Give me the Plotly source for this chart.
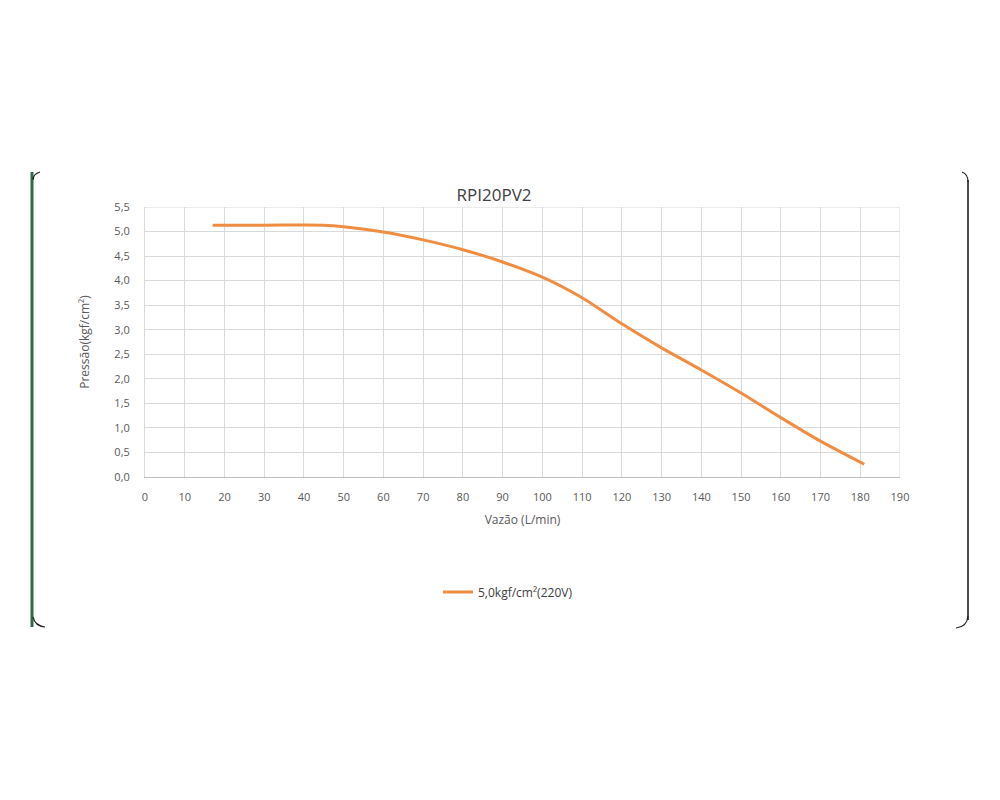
import plotly.graph_objects as go

flow = [17, 30, 45, 50, 60, 70, 80, 90, 100, 110, 120, 130, 140, 150, 160, 170, 181]
pressure = [5.13, 5.13, 5.13, 5.10, 4.99, 4.83, 4.63, 4.38, 4.07, 3.65, 3.12, 2.63, 2.18, 1.71, 1.21, 0.73, 0.26]
series_name = "5,0kgf/cm²(220V)"
title = "RPI20PV2"
x_title = "Vazão (L/min)"
y_title = "Pressão(kgf/cm²)"

L, R, T, B = 145, 900, 207, 477
W, H = 1000, 800

def px(x):
    return (x - L) / (R - L)

def py(y):
    return (B - y) / (B - T)

fig = go.Figure()
fig.add_trace(go.Scatter(x=flow, y=pressure, mode="lines", name=series_name,
                         line=dict(color="#EF8E43", width=3, shape="spline", smoothing=0.8)))

shapes = [
    dict(type="line", xref="paper", yref="paper", x0=px(32), x1=px(32), y0=py(172), y1=py(627),
         line=dict(color="#2f6b47", width=3)),
    dict(type="path", xref="paper", yref="paper",
         path=f"M {px(33)},{py(180)} Q {px(33)},{py(174)} {px(40)},{py(172)}",
         line=dict(color="#222", width=1.2)),
    dict(type="path", xref="paper", yref="paper",
         path=f"M {px(33)},{py(617)} Q {px(35)},{py(626)} {px(45)},{py(627)}",
         line=dict(color="#222", width=1.2)),
    dict(type="line", xref="paper", yref="paper", x0=px(968), x1=px(968), y0=py(180), y1=py(620),
         line=dict(color="#111", width=1.5)),
    dict(type="path", xref="paper", yref="paper",
         path=f"M {px(962)},{py(172)} Q {px(968)},{py(174)} {px(968)},{py(182)}",
         line=dict(color="#222", width=1.2)),
    dict(type="path", xref="paper", yref="paper",
         path=f"M {px(968)},{py(616)} Q {px(967)},{py(627)} {px(956)},{py(628)}",
         line=dict(color="#222", width=1.2)),
]

fig.update_layout(
    width=W, height=H,
    margin=dict(l=L, r=W - R, t=T, b=H - B, pad=0),
    paper_bgcolor="white", plot_bgcolor="white",
    separators=",.",
    font=dict(family="Open Sans, Liberation Sans, sans-serif", color="#595959", size=11),
    title=dict(text=title, x=(494) / W, xanchor="center", y=1 - 195 / H, yanchor="middle",
               font=dict(size=17, color="#404040")),
    xaxis=dict(range=[0, 190], dtick=10, tick0=0, showgrid=True, gridcolor="#d9d9d9", gridwidth=1,
               zeroline=False, showline=True, linecolor="#bfbfbf", mirror=False, ticks="",
               ticklabelstandoff=10,
               title=dict(text=x_title, standoff=12, font=dict(size=12, color="#595959")),
               tickfont=dict(size=11, color="#595959")),
    yaxis=dict(range=[0, 5.5], dtick=0.5, tick0=0, tickformat=".1f", showgrid=True,
               gridcolor="#d9d9d9", gridwidth=1, zeroline=False, showline=True, linecolor="#d9d9d9",
               ticks="", ticklabelstandoff=12,
               title=dict(text=y_title, standoff=22, font=dict(size=12, color="#595959")),
               tickfont=dict(size=11, color="#595959")),
    showlegend=True,
    legend=dict(orientation="h", x=px(508), xanchor="center", y=py(592), yanchor="middle",
                font=dict(size=12, color="#404040"), bgcolor="rgba(0,0,0,0)"),
    shapes=shapes,
)
fig.add_shape(type="line", xref="x", yref="y", x0=190, x1=190, y0=0, y1=5.5,
              line=dict(color="#d9d9d9", width=1), layer="below")
fig.add_shape(type="line", xref="x", yref="y", x0=0, x1=190, y0=5.5, y1=5.5,
              line=dict(color="#d9d9d9", width=1), layer="below")

fig.write_html("out.html")
